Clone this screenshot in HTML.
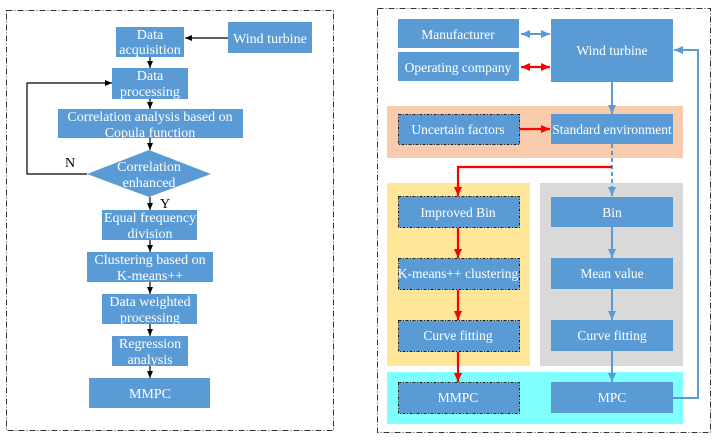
<!DOCTYPE html>
<html><head><meta charset="utf-8"><style>
html,body{margin:0;padding:0;background:#fff;width:716px;height:441px;overflow:hidden}
text{font-family:"Liberation Serif",serif;font-size:13.5px;fill:#fff;text-anchor:middle}
.l text{font-size:14px}
</style></head><body>
<svg width="716" height="441" viewBox="0 0 716 441" xmlns="http://www.w3.org/2000/svg">
<defs>
<marker id="ak" markerWidth="8" markerHeight="8" refX="7" refY="4" orient="auto" markerUnits="userSpaceOnUse"><path d="M0,1 L7,4 L0,7z" fill="#000"/></marker>
<marker id="ab" markerWidth="10" markerHeight="10" refX="9" refY="5" orient="auto-start-reverse" markerUnits="userSpaceOnUse"><path d="M0,1 L9,5 L0,9z" fill="#5b9bd5"/></marker>
<marker id="ar" markerWidth="10" markerHeight="10" refX="9" refY="5" orient="auto-start-reverse" markerUnits="userSpaceOnUse"><path d="M0,1 L9,5 L0,9z" fill="#f00"/></marker>
</defs>
<rect x="6.5" y="10.5" width="327" height="420" fill="none" stroke="#333" stroke-dasharray="6,2,1,2"/>
<rect x="377.5" y="8.5" width="333" height="424" fill="none" stroke="#333" stroke-dasharray="6,2,1,2"/>
<g fill="#5b9bd5">
<rect x="116" y="27" width="68" height="30"/>
<rect x="228" y="22" width="84" height="31"/>
<rect x="112" y="68" width="76" height="31"/>
<rect x="58" y="109" width="185" height="29"/>
<polygon points="87,174 149,150 211,174 149,197"/>
<rect x="102" y="210" width="95" height="30"/>
<rect x="87" y="252" width="126" height="30"/>
<rect x="102" y="294" width="95" height="30"/>
<rect x="112" y="336" width="76" height="30"/>
<rect x="89" y="378" width="121" height="30"/>
</g>
<g class="l">
<text x="150" y="39">Data</text><text x="150" y="54">acquisition</text>
<text x="270" y="43">Wind turbine</text>
<text x="150" y="80">Data</text><text x="150" y="96">processing</text>
<text x="150" y="121">Correlation analysis based on</text><text x="150" y="137">Copula function</text>
<text x="149" y="171">Correlation</text><text x="149" y="187">enhanced</text>
<text x="150" y="222">Equal frequency</text><text x="150" y="238">division</text>
<text x="150" y="264">Clustering based on</text><text x="150" y="280">K-means++</text>
<text x="150" y="306">Data weighted</text><text x="150" y="322">processing</text>
<text x="150" y="348">Regression</text><text x="150" y="364">analysis</text>
<text x="150" y="398">MMPC</text>
<text x="70" y="167" style="fill:#000">N</text>
<text x="165" y="208" style="fill:#000">Y</text>
</g>
<g stroke="#000" stroke-width="1.2" fill="none" marker-end="url(#ak)">
<line x1="228" y1="38" x2="185" y2="38"/>
<line x1="150" y1="57" x2="150" y2="68"/>
<line x1="150" y1="99" x2="150" y2="109"/>
<line x1="150" y1="138" x2="150" y2="150"/>
<line x1="150" y1="197" x2="150" y2="210"/>
<line x1="150" y1="240" x2="150" y2="252"/>
<line x1="150" y1="282" x2="150" y2="294"/>
<line x1="150" y1="324" x2="150" y2="336"/>
<line x1="150" y1="366" x2="150" y2="378"/>
<polyline points="87,174 27,174 27,83 112,83"/>
</g>
<rect x="387" y="106" width="296" height="52" fill="#f8cbad"/>
<rect x="387" y="183" width="143" height="183" fill="#ffe699"/>
<rect x="540" y="183" width="143" height="183" fill="#d9d9d9"/>
<rect x="387" y="372" width="296" height="52" fill="#80ffff"/>
<g fill="#5b9bd5">
<rect x="398" y="19" width="121" height="29"/>
<rect x="398" y="52" width="121" height="29"/>
<rect x="551" y="19" width="122" height="63"/>
<rect x="551" y="114" width="122" height="30"/>
<rect x="551" y="197" width="122" height="30"/>
<rect x="551" y="258" width="122" height="31"/>
<rect x="551" y="320" width="122" height="31"/>
<rect x="551" y="382" width="122" height="31"/>
</g>
<g fill="#5b9bd5" stroke="#222" stroke-dasharray="3,1.5,1,1.5">
<rect x="398.5" y="114.5" width="121" height="30"/>
<rect x="398.5" y="196.5" width="121" height="31"/>
<rect x="398.5" y="258.5" width="121" height="31"/>
<rect x="398.5" y="320.5" width="121" height="31"/>
<rect x="398.5" y="382.5" width="121" height="31"/>
</g>
<text x="458" y="39">Manufacturer</text>
<text x="458" y="72">Operating company</text>
<text x="612" y="55">Wind turbine</text>
<text x="458" y="134">Uncertain factors</text>
<text x="612" y="134">Standard environment</text>
<text x="458" y="217">Improved Bin</text>
<text x="612" y="217">Bin</text>
<text x="458" y="278">K-means++ clustering</text>
<text x="612" y="278">Mean value</text>
<text x="458" y="340">Curve fitting</text>
<text x="612" y="340">Curve fitting</text>
<text x="458" y="402">MMPC</text>
<text x="612" y="402">MPC</text>
<g stroke="#5b9bd5" stroke-width="2" fill="none">
<line x1="521" y1="34" x2="550" y2="34" marker-start="url(#ab)" marker-end="url(#ab)"/>
<line x1="612" y1="82" x2="612" y2="114" marker-end="url(#ab)"/>
<line x1="612" y1="144" x2="612" y2="196" stroke-dasharray="4,3" marker-end="url(#ab)"/>
<line x1="612" y1="227" x2="612" y2="258" marker-end="url(#ab)"/>
<line x1="612" y1="289" x2="612" y2="320" marker-end="url(#ab)"/>
<line x1="612" y1="351" x2="612" y2="382" marker-end="url(#ab)"/>
<polyline points="673,398 698,398 698,50 674,50" marker-end="url(#ab)"/>
</g>
<g stroke="#f00" stroke-width="2.2" fill="none">
<line x1="521" y1="67" x2="550" y2="67" marker-start="url(#ar)" marker-end="url(#ar)"/>
<line x1="519" y1="129" x2="550" y2="129" marker-end="url(#ar)"/>
<polyline points="612,167 458,167 458,196" marker-end="url(#ar)"/>
<line x1="458" y1="228" x2="458" y2="258" marker-end="url(#ar)"/>
<line x1="458" y1="290" x2="458" y2="320" marker-end="url(#ar)"/>
<line x1="458" y1="352" x2="458" y2="382" marker-end="url(#ar)"/>
</g>
</svg>
</body></html>
